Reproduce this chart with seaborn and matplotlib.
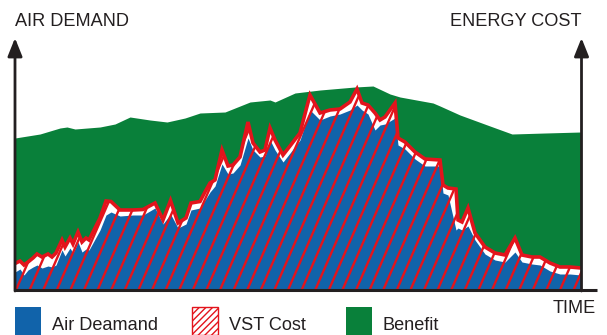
import numpy as np
import pandas as pd
import matplotlib
matplotlib.use("Agg")
import matplotlib.pyplot as plt
from matplotlib.collections import LineCollection
from matplotlib.patches import Rectangle
import seaborn as sns

sns.set_theme(style="white")
plt.rcParams["font.family"] = ["Liberation Sans", "DejaVu Sans"]

# ---- data -------------------------------------------------------------
# time samples shared by the demand and VST cost profiles
time = [0, 5, 9, 13, 18, 22, 27, 33, 37, 41, 47, 50, 55, 58, 63, 67, 71, 74,
        85, 91, 96, 105, 118, 128, 140, 148, 155.5, 163, 171, 176, 185, 190,
        195, 200, 207, 213, 218, 225, 233, 238, 245, 250, 255, 260, 268, 275,
        285, 295, 305, 315, 325, 335, 342, 347, 353, 360, 365, 370, 380, 383,
        390, 400, 410, 425, 428, 433, 441, 443, 447, 453, 460, 470, 480, 490,
        500, 507, 517, 525, 535, 545, 555, 566]

vst_cost = [26.5, 29, 25, 28, 32, 36, 33, 36, 33, 37, 50, 43, 52, 46, 58, 48,
            52, 50, 72, 89, 88.5, 80, 80, 80.5, 87, 70, 89.5, 67, 72, 87, 88.5,
            98, 107, 110, 140, 124, 125, 133, 168, 147, 138, 140, 162, 150,
            135, 144, 157, 195, 177, 180, 181, 188, 201, 187, 185, 177, 170,
            173, 187, 152, 148, 138, 131, 130, 105, 102, 101, 70, 68, 82, 57,
            43, 37, 35, 52, 35, 33, 33, 27, 23, 23, 22]

air_demand = [18, 21, 15, 20, 23, 25, 22, 24, 23, 25, 40, 34, 42, 37, 48, 38,
              41, 40, 60, 75, 78, 74, 75, 75, 82, 66, 76, 62, 66, 80, 82, 90,
              98, 104, 126, 116, 117, 125, 152, 140, 133, 134, 150, 140, 128,
              137, 150, 180, 170, 174, 176, 180, 185, 180, 176, 160, 165, 166,
              172, 145, 141, 131, 124, 124, 97, 95, 60, 62, 60, 64, 50, 36, 30,
              28, 38, 28, 26, 25, 19, 16, 16, 15]

# upper envelope of the benefit region
benefit_time = [0, 25, 45, 52, 60, 85, 100, 115, 135, 152, 170, 185, 210, 235,
                255, 260, 280, 305, 340, 358, 375, 385, 418, 425, 445, 475,
                497, 530, 566]
benefit = [152, 156, 162, 163, 161, 163, 166, 173, 170, 168, 172, 177, 178,
           188, 190, 188, 197, 200, 203, 204, 196, 193, 187, 184, 175, 164,
           156, 157, 158]

legend_labels = ["Air Deamand", "VST Cost", "Benefit"]

# ---- colours ------------------------------------------------------------
GREEN = "#09803A"
BLUE = "#1163AA"
RED = "#E3141C"
INK = "#231F20"

df = pd.DataFrame({"time": time, "cost": vst_cost, "demand": air_demand})

W, H = 607, 335
fig = plt.figure(figsize=(W / 100, H / 100), dpi=100)
ax = fig.add_axes([15 / W, 45 / H, 566 / W, 252 / H])

# benefit region
ax.fill_between(benefit_time, 0, benefit, color=GREEN, lw=0, zorder=1)

# VST cost region (white body) and air demand on top of it
cost_poly = ax.fill_between(df["time"], 0, df["cost"], color="white", lw=0,
                            zorder=2)
ax.fill_between(df["time"], 0, df["demand"], color=BLUE, lw=0, zorder=3)

# red diagonal hatching confined to the cost region
spacing, run = 13.6, 1 / 2.3
offsets = np.arange(1 - spacing * 12, 566 + spacing, spacing)
segs = [[(c - 5 * run, -5), (c + 260 * run, 260)] for c in offsets]
hatch = LineCollection(segs, colors=RED, linewidths=1.7, zorder=4)
hatch.set_clip_path(cost_poly.get_paths()[0], ax.transData)
ax.add_collection(hatch)

# VST cost outline
sns.lineplot(data=df, x="time", y="cost", ax=ax, color=RED, lw=2.6,
             zorder=5, sort=True, estimator=None,
             solid_joinstyle="miter")
ax.set_xlim(0, 566)
ax.set_ylim(0, 252)
ax.set_axis_off()

# axes with arrow heads
arrow = dict(arrowstyle="-|>,head_length=0.55,head_width=0.22",
             color=INK, lw=2, mutation_scale=20, shrinkA=0, shrinkB=0)
ax.annotate("", xy=(0, 252), xytext=(0, -1), arrowprops=arrow,
            annotation_clip=False, zorder=6)
ax.annotate("", xy=(566.5, 252), xytext=(566.5, -1), arrowprops=arrow,
            annotation_clip=False, zorder=6)
ax.plot([-1, 582], [0, 0], color=INK, lw=2.2, clip_on=False, zorder=6,
        solid_capstyle="butt")

# axis captions
fs = 13.1
fig.text(15 / W, 1 - 26 / H, "AIR DEMAND", fontsize=fs, color=INK,
         ha="left", va="baseline")
fig.text(582 / W, 1 - 26 / H, "ENERGY COST", fontsize=fs, color=INK,
         ha="right", va="baseline")
fig.text(596 / W, 1 - 313 / H, "TIME", fontsize=fs, color=INK,
         ha="right", va="baseline")

# legend
def box(x0, **kw):
    r = Rectangle((x0 / W, 0), 26 / W, 28 / H, transform=fig.transFigure,
                  **kw)
    fig.add_artist(r)

box(15, facecolor=BLUE, edgecolor="none")
box(192, facecolor="white", edgecolor=RED, hatch="/////", lw=1)
box(346, facecolor=GREEN, edgecolor="none")
for x0, lab in zip([52, 229, 383], legend_labels):
    fig.text(x0 / W, 1 - 330 / H, lab, fontsize=fs, color=INK,
             ha="left", va="baseline")

fig.savefig("out.png", dpi=100)
